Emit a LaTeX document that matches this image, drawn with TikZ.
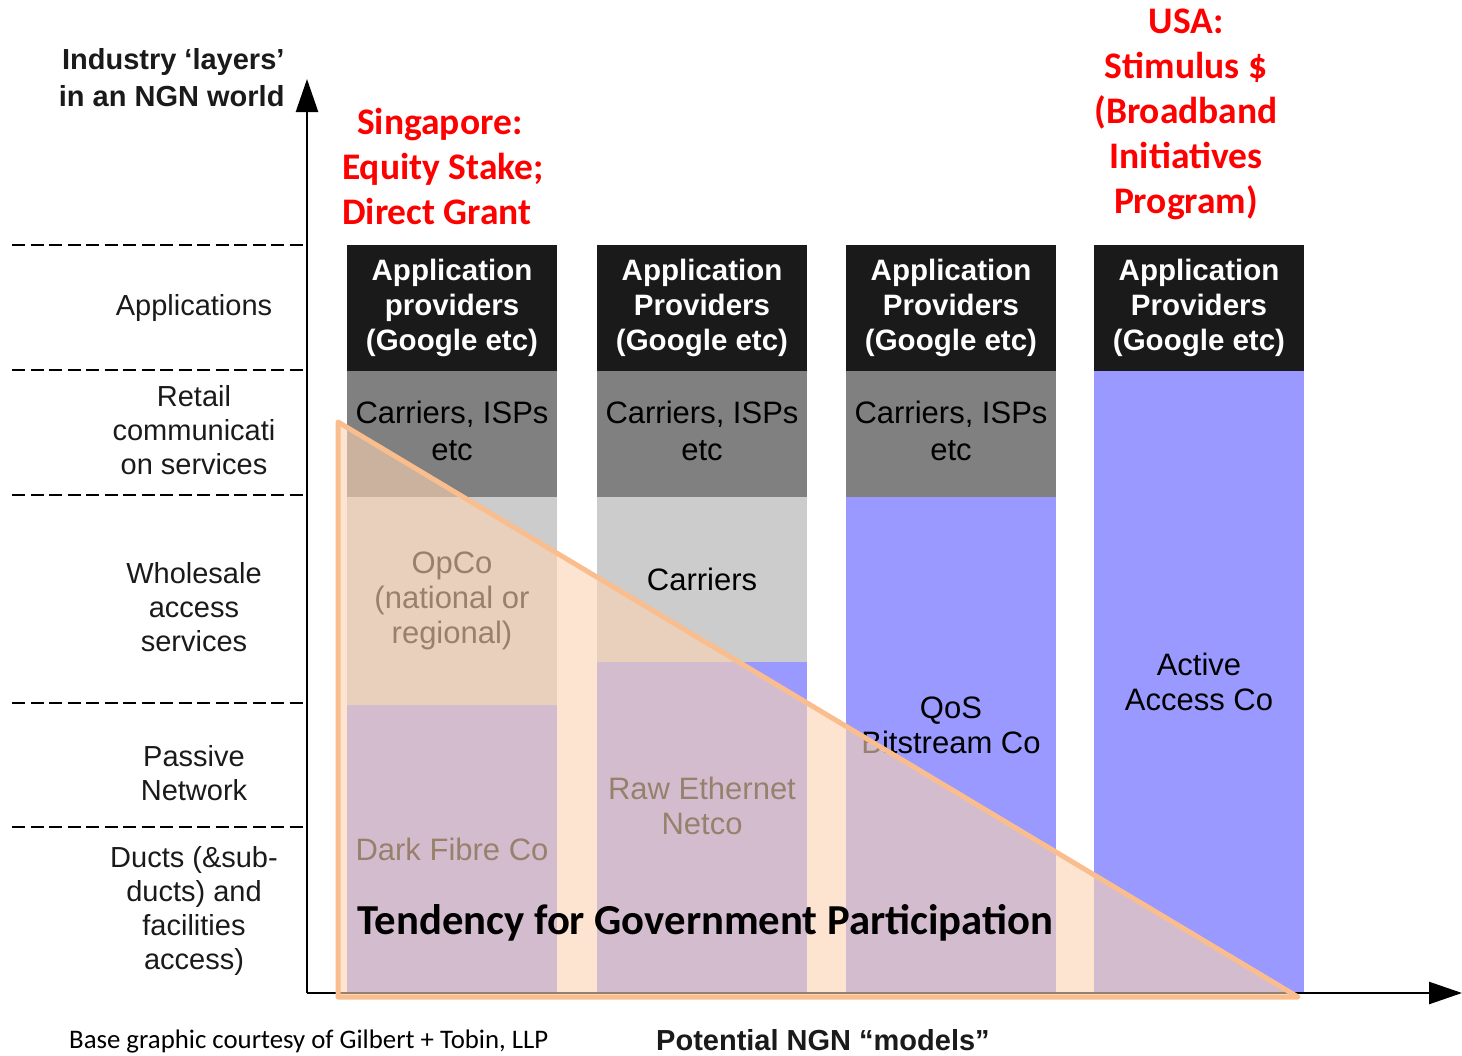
\documentclass[tikz,border=0pt]{standalone}
\usepackage{fontspec}
\setmainfont{Liberation Sans}
\newfontfamily\calibri{Carlito}
\usetikzlibrary{positioning}
\usetikzlibrary{calc}
\usetikzlibrary{arrows.meta}
\definecolor{mblack}{RGB}{26,26,26}
\definecolor{mdark}{RGB}{128,128,128}
\definecolor{mlight}{RGB}{204,204,204}
\definecolor{mblue}{RGB}{153,153,255}
\definecolor{mpeach}{RGB}{250,211,178}
\definecolor{morange}{RGB}{250,190,142}
\definecolor{mred}{RGB}{255,0,0}
\definecolor{mtext}{RGB}{26,26,26}

\begin{document}
\begin{tikzpicture}[x=1pt, y=-1pt,
    cell/.style={anchor=north west, minimum width=210pt, inner sep=0pt, outer sep=0pt, align=center, font=\fontsize{31}{35}\selectfont},
    apps/.style={cell, fill=mblack, text=white, minimum height=126pt, font=\bfseries\fontsize{29.5}{35}\selectfont},
    isps/.style={cell, fill=mdark, minimum height=126pt, font=\fontsize{31}{37.5}\selectfont},
    whole/.style={cell, fill=mlight},
    access/.style={cell, fill=mblue},
    layer/.style={align=center, text=mtext, font=\fontsize{29}{34}\selectfont},
    sep/.style={dash pattern=on 13pt off 5.5pt, line width=2pt},
    axis/.style={line width=2.5pt, -{Triangle[length=33pt, width=22pt]}},
    remark/.style={text=mred, inner sep=0pt, font=\calibri\bfseries\fontsize{37.5}{45}\selectfont},
    govt/.style={fill=mpeach, fill opacity=0.61, draw=morange, line width=5pt, line join=round},
]
\useasboundingbox (0,0) rectangle (1462,1055);

% layer names on the left
\node[layer, anchor=east, align=right, font=\bfseries\fontsize{29}{37}\selectfont] (industry) at (288,78) {Industry ‘layers’\\in an NGN world};
\node[layer] (applications) at (194,308) {Applications};
\node[layer] (retail) at (194,430) {Retail\\communicati\\on services};
\node[layer] (wholesale) at (194,607) {Wholesale\\access\\services};
\node[layer] (passive) at (194,773) {Passive\\Network};
\node[layer] (ducts) at (194,911) {Ducts (\&sub-\\ducts) and\\facilities\\access)};
\foreach \y in {245,370,495,703,827}
    \draw[sep] (12,\y) -- (307,\y);

% the four models
\node[apps] (app1) at (347,245) {Application\\providers\\(Google etc)};
\node[apps] (app2) at (597,245) {Application\\Providers\\(Google etc)};
\node[apps] (app3) at (846,245) {Application\\Providers\\(Google etc)};
\node[apps] (app4) at (1094,245) {Application\\Providers\\(Google etc)};
\node[isps, below=0pt of app1] (isp1) {Carriers, ISPs\\etc\vphantom{p}};
\node[isps, below=0pt of app2] (isp2) {Carriers, ISPs\\etc\vphantom{p}};
\node[isps, below=0pt of app3] (isp3) {Carriers, ISPs\\etc\vphantom{p}};
\node[whole, minimum height=208pt, below=0pt of isp1] (opco) {OpCo\\(national or\\regional)};
\node[access, minimum height=288pt, below=0pt of opco] (fibre) {Dark Fibre Co};
\node[whole, minimum height=165pt, below=0pt of isp2] (carriers) {Carriers};
\node[access, minimum height=331pt, below=0pt of carriers] (raw) {};
\node[cell, anchor=center, text=black] (rawtext) at ($(raw.center)+(0,-22)$) {Raw Ethernet\\Netco};
\node[access, minimum height=496pt, below=0pt of isp3] (qos) {};
\node[cell, anchor=center, text=black] (qostext) at ($(qos.center)+(0,-20)$) {QoS\\Bitstream Co};
\node[access, minimum height=622pt, below=0pt of app4] (active) {Active\\Access Co};

% axes
\coordinate (origin) at (307,993);
\coordinate (ytop) at (307,79);
\coordinate (xend) at (1462,993);
\draw[axis] (origin) -- (ytop);
\draw[axis] (origin) -- (xend);

% government participation
\filldraw[govt] (338,422) -- (338,997) -- (1298,997) -- cycle;
\node[font=\calibri\bfseries\fontsize{42.7}{50}\selectfont, anchor=west, inner sep=0pt] (tendency) at (357,923) {Tendency for Government Participation};

\node[remark, align=left, anchor=west] (singapore) at (342,166) {\hspace{15pt}Singapore:\\Equity Stake;\\Direct Grant};
\node[remark, align=center] (usa) at (1186,114) {USA:\\Stimulus \$\hspace*{9pt}\\(Broadband\\Initiatives\\Program)};

\node[font=\calibri\fontsize{26.8}{32}\selectfont, anchor=west, inner sep=0pt] (courtesy) at (69,1041) {Base graphic courtesy of Gilbert + Tobin, LLP};
\node[text=mtext, font=\bfseries\fontsize{29}{35}\selectfont, anchor=west, inner sep=0pt] (models) at (656,1040) {Potential NGN “models”};
\end{tikzpicture}
\end{document}
